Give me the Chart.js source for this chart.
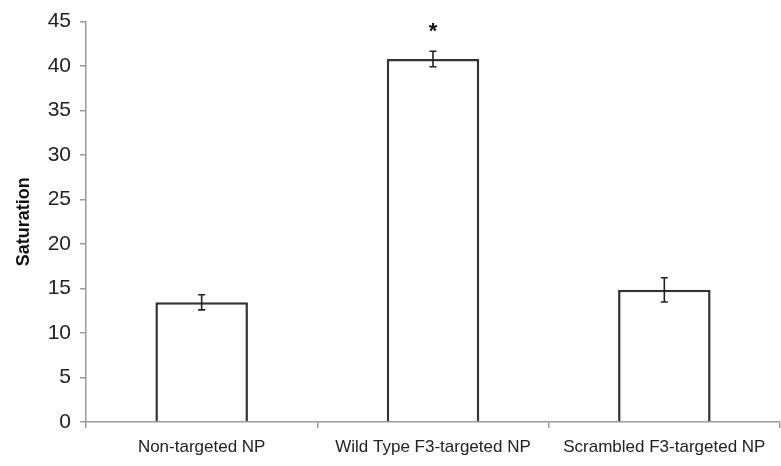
<!DOCTYPE html>
<html>
<head>
<meta charset="utf-8">
<script src="https://cdn.jsdelivr.net/npm/chart.js@4"></script>
<style>
  html, body { margin: 0; padding: 0; background: #fff; }
  #wrap { width: 781px; height: 466px; }
</style>
</head>
<body>
<div id="wrap"><canvas id="myChart"></canvas></div>
<script>
const labels = ['Non-targeted NP', 'Wild Type F3-targeted NP', 'Scrambled F3-targeted NP'];
const saturation = [13.45, 40.8, 14.85];
const errors = [0.85, 0.87, 1.36];
const marks = ['', '*', ''];
const yTicks = [0, 5, 10, 15, 20, 25, 30, 35, 40, 45];

const FONT = "'Liberation Sans', Arial, sans-serif";

// error bars + significance star
const errorBars = {
  id: 'errorBars',
  afterDatasetsDraw(chart) {
    const ctx = chart.ctx;
    const x = chart.scales.x, y = chart.scales.y;
    ctx.save();
    ctx.strokeStyle = '#222';
    ctx.lineWidth = 1.6;
    saturation.forEach((v, i) => {
      const px = x.getPixelForValue(i);
      const top = y.getPixelForValue(v + errors[i]);
      const bot = y.getPixelForValue(v - errors[i]);
      ctx.beginPath();
      ctx.moveTo(px, top); ctx.lineTo(px, bot);
      ctx.moveTo(px - 3.5, top); ctx.lineTo(px + 3.5, top);
      ctx.moveTo(px - 3.5, bot); ctx.lineTo(px + 3.5, bot);
      ctx.stroke();
      if (marks[i]) {
        ctx.fillStyle = '#111';
        ctx.font = 'bold 22px ' + FONT;
        ctx.textAlign = 'center';
        ctx.textBaseline = 'middle';
        ctx.fillText(marks[i], px, top - 19);
      }
    });
    ctx.restore();
  }
};

const ctx = document.getElementById('myChart');

new Chart(ctx, {
  type: 'bar',
  data: {
    labels: labels,
    datasets: [{
      data: saturation,
      backgroundColor: '#fff',
      borderColor: '#333',
      borderWidth: 2.5,
      categoryPercentage: 0.4,
      barPercentage: 1.0
    }]
  },
  options: {
    responsive: true,
    maintainAspectRatio: false,
    animation: false,
    layout: { padding: { top: 17, right: 1, left: 13, bottom: 0 } },
    plugins: { legend: { display: false }, tooltip: { enabled: false } },
    scales: {
      x: {
        grid: { offset: true, drawOnChartArea: false, color: '#999', tickLength: 6, lineWidth: 1.5 },
        border: { color: '#999', width: 1.5 },
        ticks: { color: '#222', font: { family: FONT, size: 17 }, padding: 9, maxRotation: 0 },
        afterFit(scale) { scale.height = 44; }
      },
      y: {
        min: 0,
        max: 45,
        afterBuildTicks(scale) { scale.ticks = yTicks.map(v => ({ value: v })); },
        grid: { drawOnChartArea: false, color: '#999', tickLength: 6, lineWidth: 1.5 },
        border: { color: '#999', width: 1.5 },
        ticks: { color: '#222', font: { family: FONT, size: 21 }, padding: 9 },
        title: { display: true, text: 'Saturation', color: '#111', font: { family: FONT, size: 18, weight: 'bold' }, padding: 0 },
        afterFit(scale) { scale.width = 73; }
      }
    }
  },
  plugins: [errorBars]
});
</script>
</body>
</html>
